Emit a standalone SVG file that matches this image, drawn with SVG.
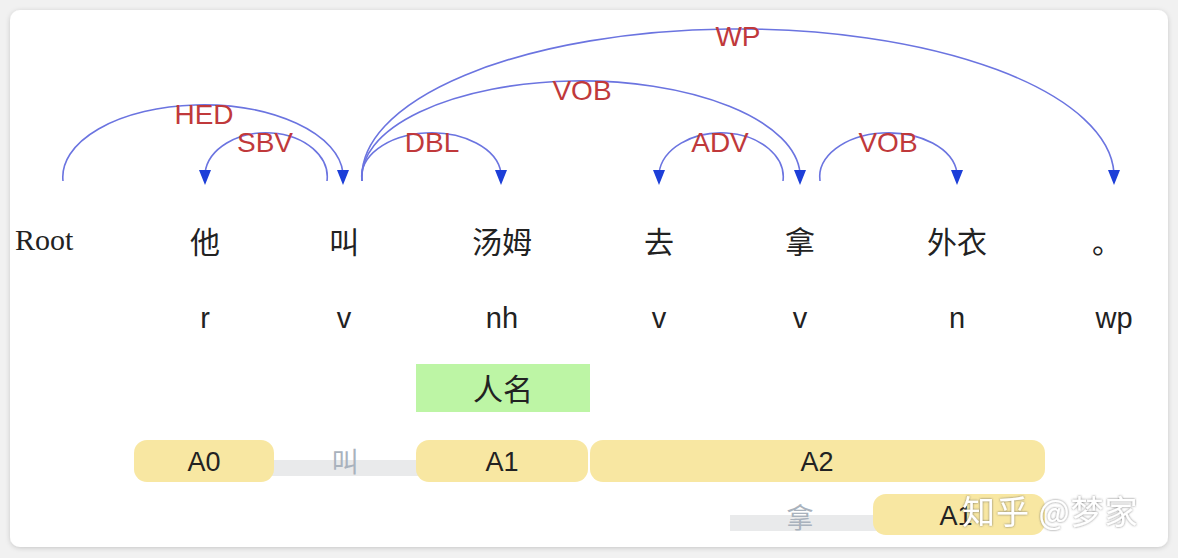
<svg xmlns="http://www.w3.org/2000/svg" width="1178" height="558" viewBox="0 0 1178 558">
  <defs>
    <style>
      .arc{fill:none;stroke:#6b74e0;stroke-width:1.6}
      .lbl{font-family:"Liberation Sans",Arial,sans-serif;font-size:28px;fill:#c0393b;text-anchor:middle}
      .word{font-family:"Noto Sans CJK SC","Noto Sans CJK JP",sans-serif;font-size:30px;fill:#222;text-anchor:middle}
      .pos{font-family:"Liberation Sans",Arial,sans-serif;font-size:29px;fill:#222;text-anchor:middle}
      .pill{fill:#f8e7a2}
      .bar{fill:#e9eaeb}
      .arg{font-family:"Liberation Sans",Arial,sans-serif;font-size:27px;fill:#222;text-anchor:middle}
      .pred{font-family:"Noto Sans CJK SC",sans-serif;font-size:27px;fill:#a9b2bd;text-anchor:middle}
    </style>
    <filter id="sh" x="-5%" y="-5%" width="110%" height="110%">
      <feDropShadow dx="0" dy="1" stdDeviation="2.5" flood-color="#000" flood-opacity="0.18"/>
    </filter>
    <filter id="wsh" x="-10%" y="-20%" width="120%" height="140%">
      <feDropShadow dx="0" dy="0" stdDeviation="1.2" flood-color="#555" flood-opacity="0.8"/>
    </filter>
  </defs>
  <rect x="0" y="0" width="1178" height="558" fill="#f1f1f1"/>
  <rect x="10" y="10" width="1158" height="537" rx="10" fill="#fff" filter="url(#sh)"/>

  <g id="connectors">
    <path class="arc" d="M63,181 A140,72 0 0 1 343,173"/>
    <path class="arc" d="M327,181 A61,44 0 0 0 205,173"/>
    <path class="arc" d="M362,181 A69.5,44 0 0 1 501,173"/>
    <path class="arc" d="M362,181 A219,96 0 0 1 800,173"/>
    <path class="arc" d="M362,181 A376,148 0 0 1 1114,173"/>
    <path class="arc" d="M783,181 A62,44 0 0 0 659,173"/>
    <path class="arc" d="M820,181 A68.5,44 0 0 1 957,173"/>
    <path d="M337,170 L349,170 L343,185 Z M199,170 L211,170 L205,185 Z M495,170 L507,170 L501,185 Z M794,170 L806,170 L800,185 Z M1108,170 L1120,170 L1114,185 Z M653,170 L665,170 L659,185 Z M951,170 L963,170 L957,185 Z" fill="#1d3fd8"/>
    <text class="lbl" x="204" y="124">HED</text>
    <text class="lbl" x="265" y="152">SBV</text>
    <text class="lbl" x="432" y="152">DBL</text>
    <text class="lbl" x="582" y="100">VOB</text>
    <text class="lbl" x="738" y="46">WP</text>
    <text class="lbl" x="720" y="152">ADV</text>
    <text class="lbl" x="888" y="152">VOB</text>
  </g>

  <g id="root"><text x="15" y="250" font-family="Liberation Serif,serif" font-size="30" fill="#222">Root</text></g>
  <g id="w1"><text class="word" x="205" y="253">他</text><text class="pos" x="205" y="328">r</text></g>
  <g id="w2"><text class="word" x="344" y="253">叫</text><text class="pos" x="344" y="328">v</text></g>
  <g id="w3"><text class="word" x="502" y="253">汤姆</text><text class="pos" x="502" y="328">nh</text></g>
  <g id="w4"><text class="word" x="659" y="253">去</text><text class="pos" x="659" y="328">v</text></g>
  <g id="w5"><text class="word" x="800" y="253">拿</text><text class="pos" x="800" y="328">v</text></g>
  <g id="w6"><text class="word" x="957" y="253">外衣</text><text class="pos" x="957" y="328">n</text></g>
  <g id="w7"><text class="word" x="1107" y="253">。</text><text class="pos" x="1114" y="328">wp</text></g>

  <g id="ner">
    <rect x="416" y="364" width="174" height="48" fill="#bdf5a5"/>
    <text class="word" x="503" y="400" font-size="28">人名</text>
  </g>

  <g id="srl1">
    <rect class="bar" x="270" y="460" width="150" height="16"/>
    <text class="pred" x="345" y="472">叫</text>
    <rect class="pill" x="134" y="440" width="140" height="42" rx="13"/>
    <text class="arg" x="204" y="471">A0</text>
    <rect class="pill" x="416" y="440" width="172" height="42" rx="13"/>
    <text class="arg" x="502" y="471">A1</text>
    <rect class="pill" x="590" y="440" width="455" height="42" rx="13"/>
    <text class="arg" x="817" y="471">A2</text>
  </g>
  <g id="srl2">
    <rect class="bar" x="730" y="515" width="150" height="16"/>
    <text class="pred" x="800" y="528">拿</text>
    <rect class="pill" x="873" y="494" width="172" height="41" rx="13"/>
    <text class="arg" x="956" y="525">A1</text>
  </g>

  <g id="watermark">
    <text x="962" y="524" font-family="Noto Sans CJK SC,sans-serif" font-size="33" letter-spacing="1" fill="#fff" filter="url(#wsh)">知乎 @梦家</text>
  </g>
</svg>
